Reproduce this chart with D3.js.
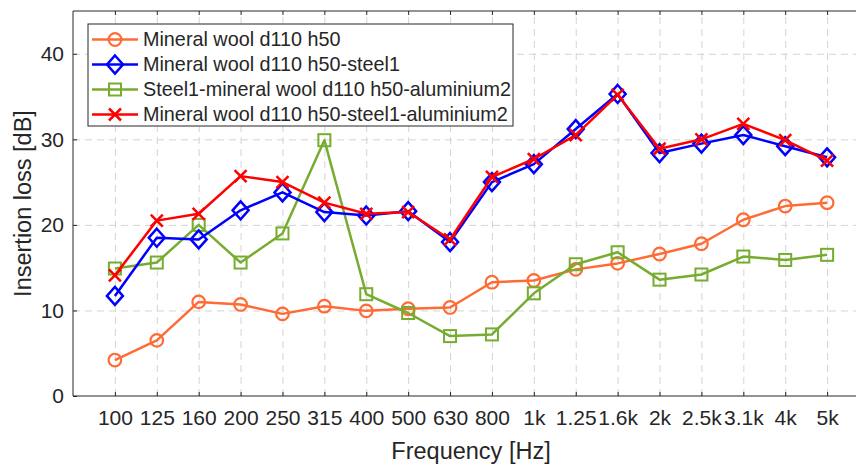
<!DOCTYPE html>
<html>
<head>
<meta charset="utf-8">
<script src="https://cdn.jsdelivr.net/npm/d3@7"></script>
<style>
  body { margin: 0; background: #fff; }
  svg { display: block; font-family: "Liberation Sans", Arial, sans-serif; }
  .axis path, .axis line { stroke: #262626; }
  .axis text { fill: #262626; font-size: 21px; }
  .grid line { stroke: #d4d4d4; stroke-dasharray: 7,5; }
  .grid path { display: none; }
</style>
</head>
<body>
<div id="chart"></div>
<script>
var freqs = ["100", "125", "160", "200", "250", "315", "400", "500", "630", "800", "1k", "1.25", "1.6k", "2k", "2.5k", "3.1k", "4k", "5k"];
var yTicks = [0, 10, 20, 30, 40];

var mineralWool = [4.2, 6.5, 11.0, 10.7, 9.6, 10.5, 9.95, 10.2, 10.35, 13.3, 13.5, 14.8, 15.5, 16.6, 17.8, 20.6, 22.2, 22.6];
var mineralWoolSteel = [11.7, 18.5, 18.3, 21.7, 23.8, 21.5, 21.1, 21.6, 18.0, 25.0, 27.1, 31.2, 35.3, 28.4, 29.5, 30.5, 29.2, 27.9];
var steelWoolAlu = [14.9, 15.6, 20.0, 15.6, 19.0, 29.9, 11.9, 9.7, 7.0, 7.2, 12.0, 15.4, 16.8, 13.6, 14.2, 16.3, 15.9, 16.5];
var woolSteelAlu = [14.1, 20.5, 21.3, 25.7, 25.0, 22.6, 21.3, 21.5, 18.3, 25.6, 27.7, 30.5, 35.2, 28.9, 30.0, 31.8, 29.9, 27.5];

var seriesNames = [
  "Mineral wool d110 h50",
  "Mineral wool d110 h50-steel1",
  "Steel1-mineral wool d110 h50-aluminium2",
  "Mineral wool d110 h50-steel1-aluminium2"
];

var series = [
  { name: seriesNames[0], values: mineralWool, color: "#ff6b35", marker: "circle" },
  { name: seriesNames[1], values: mineralWoolSteel, color: "#0000ff", marker: "diamond" },
  { name: seriesNames[2], values: steelWoolAlu, color: "#77ac30", marker: "square" },
  { name: seriesNames[3], values: woolSteelAlu, color: "#ff0000", marker: "cross" }
];

var W = 856, H = 464;
var margin = { top: 11, left: 73 };
var width = 796, height = 385;

var svg = d3.select("#chart").append("svg")
  .attr("width", W)
  .attr("height", H);

var g = svg.append("g")
  .attr("transform", "translate(" + margin.left + "," + margin.top + ")");

// index 1..18 -> positions, axis runs from 0 to 19 (right side is cut off)
var x = d3.scaleLinear().domain([0, 19]).range([0, width]);
var y = d3.scaleLinear().domain([0, 45]).range([height, 0]);
var idx = d3.range(1, freqs.length + 1);

// grid
g.append("g").attr("class", "grid")
  .attr("transform", "translate(0," + height + ")")
  .call(d3.axisBottom(x).tickValues(idx).tickSize(-height).tickFormat(""));
g.append("g").attr("class", "grid")
  .call(d3.axisLeft(y).tickValues(yTicks.slice(1)).tickSize(-width).tickFormat(""));

// axes (ticks inside, matlab style)
var xAxis = d3.axisBottom(x).tickValues(idx).tickSize(-4).tickPadding(14)
  .tickFormat(function (d) { return freqs[d - 1]; });
var gx = g.append("g").attr("class", "axis")
  .attr("transform", "translate(0," + height + ")")
  .call(xAxis);
gx.select(".domain").attr("d", "M0,0H" + width);

var gxTop = g.append("g").attr("class", "axis")
  .call(d3.axisTop(x).tickValues(idx).tickSize(-4).tickFormat(""));
gxTop.select(".domain").attr("d", "M0,0H" + width);

var gy = g.append("g").attr("class", "axis")
  .call(d3.axisLeft(y).tickValues(yTicks).tickSize(-4).tickPadding(9));
gy.select(".domain").attr("d", "M0,0V" + height);

// lines + markers
var line = d3.line()
  .x(function (d, i) { return x(i + 1); })
  .y(function (d) { return y(d); });

var drawMarker = function (sel, type, color) {
  if (type == "circle") {
    sel.append("circle").attr("r", 6.3)
      .attr("fill", "none").attr("stroke", color).attr("stroke-width", 2.2);
  } else if (type == "diamond") {
    sel.append("path").attr("d", "M0,-9L8,0L0,9L-8,0Z")
      .attr("fill", "none").attr("stroke", color).attr("stroke-width", 2.5);
  } else if (type == "square") {
    sel.append("rect").attr("x", -6).attr("y", -6).attr("width", 12).attr("height", 12)
      .attr("fill", "none").attr("stroke", color).attr("stroke-width", 2);
  } else {
    sel.append("path").attr("d", "M-6,-6L6,6M-6,6L6,-6")
      .attr("fill", "none").attr("stroke", color).attr("stroke-width", 2.5);
  }
};

var drawOrder = [0, 2, 1, 3];
drawOrder.forEach(function (k) {
  var s = series[k];
  g.append("path")
    .datum(s.values)
    .attr("fill", "none")
    .attr("stroke", s.color)
    .attr("stroke-width", 2.5)
    .attr("stroke-linejoin", "round")
    .attr("d", line);

  g.selectAll(".m" + k)
    .data(s.values)
    .enter()
    .append("g")
    .attr("class", "m" + k)
    .attr("transform", function (d, i) { return "translate(" + x(i + 1) + "," + y(d) + ")"; })
    .each(function () { drawMarker(d3.select(this), s.marker, s.color); });
});

// axis labels
svg.append("text")
  .attr("x", margin.left + x(9.5))
  .attr("y", 459)
  .attr("text-anchor", "middle")
  .attr("fill", "#262626")
  .style("font-size", "23.5px")
  .text("Frequency [Hz]");

svg.append("text")
  .attr("transform", "translate(31," + (margin.top + height / 2) + ") rotate(-90)")
  .attr("text-anchor", "middle")
  .attr("fill", "#262626")
  .style("font-size", "23.5px")
  .text("Insertion loss [dB]");

// legend
var legend = svg.append("g").attr("transform", "translate(88,24)");
legend.append("rect")
  .attr("width", 425).attr("height", 102)
  .attr("fill", "#fff").attr("stroke", "#262626").attr("stroke-width", 1);

series.forEach(function (s, i) {
  var row = legend.append("g").attr("transform", "translate(0," + (15.5 + i * 25) + ")");
  row.append("line")
    .attr("x1", 4).attr("x2", 50)
    .attr("stroke", s.color).attr("stroke-width", 2.5);
  drawMarker(row.append("g").attr("transform", "translate(27,0)"), s.marker, s.color);
  row.append("text")
    .attr("x", 55).attr("dy", "0.35em")
    .attr("fill", "#262626")
    .style("font-size", "19.8px")
    .text(s.name);
});
</script>
</body>
</html>
